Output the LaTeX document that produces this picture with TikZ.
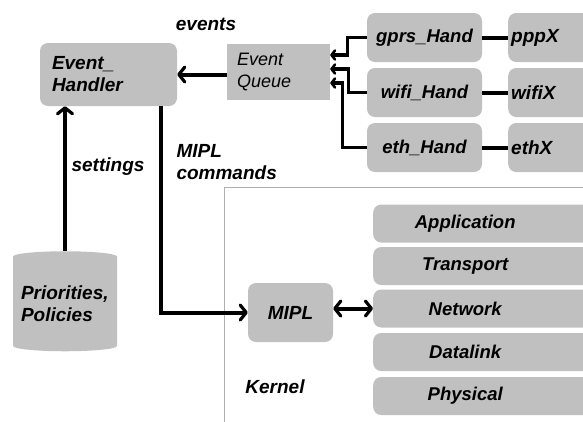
\documentclass[tikz,border=0pt]{standalone}
\usepackage{fontspec}
\setmainfont{Liberation Sans}
\usetikzlibrary{arrows.meta,shapes.geometric,calc}
\definecolor{boxgray}{HTML}{C0C0C0}
\definecolor{framegray}{HTML}{B0B0B0}
% layer names are centred on the visible part of the layer bar
\newcommand{\layerlabel}[1]{\makebox[184pt]{#1}}
\begin{document}
\begin{tikzpicture}[x=1pt,y=-1pt,
  every node/.style={font=\fontsize{19}{22}\selectfont\bfseries\itshape},
  small/.style={font=\fontsize{18.5}{22}\selectfont\bfseries\itshape},
  box/.style={fill=boxgray, rounded corners=8pt, inner sep=0pt},
  plainbox/.style={fill=boxgray, inner sep=0pt},
  handbox/.style={box, small, minimum width=115pt, minimum height=49pt},
  ifbox/.style={box, anchor=west, minimum width=120pt, minimum height=49pt,
                text width=114pt, inner xsep=3pt, align=left},
  layerbox/.style={box, small, anchor=west, minimum width=250pt,
                   minimum height=38pt, text width=250pt, align=left},
  conn/.style={line width=4pt},
  tipbig/.tip={Straight Barb[length=6pt, width=15pt, line width=3.2pt, round]},
  tipsmall/.tip={Straight Barb[length=3.5pt, width=9pt, line width=2.6pt, round]},
  arr/.style={conn, -tipbig},
  sarr/.style={line width=3.2pt, -tipsmall}
]
\useasboundingbox (0,0) rectangle (583,421);

% kernel frame (runs off the page to the right and bottom)
\draw[framegray, line width=0.8pt] (224,187) rectangle (700,520);

% user-space components
\node[box, minimum width=137pt, minimum height=63pt, text width=113pt, align=left]
  (eh) at (108.5,74.5) {Event\_\\Handler};
\node[plainbox, minimum width=103pt, minimum height=56pt, text width=83pt, align=left,
      font=\fontsize{18}{22}\selectfont\itshape]
  (eq) at (278.5,72) {Event\\Queue};

\node[handbox] (gprs) at (424.5,37.5) {\raisebox{2pt}{gprs\_Hand}};
\node[handbox] (wifi) at (424.5,92.5) {wifi\_Hand};
\node[handbox] (eth)  at (424.5,147.5) {eth\_Hand};

\node[ifbox] (ppp)   at (508,37.5) {\raisebox{-3pt}{pppX}};
\node[ifbox] (wifix) at (508,92.5) {\raisebox{-2pt}{wifiX}};
\node[ifbox] (ethx)  at (508,147.5) {ethX};

\node[cylinder, shape border rotate=90, aspect=0.12, fill=boxgray, inner sep=0pt,
      minimum width=104pt, minimum height=100pt, text width=88pt, align=left]
  (db) at (65,304) {Priorities,\\Policies};

% kernel components
\node[box, minimum width=85pt, minimum height=59pt] (mipl) at (290.5,312.5) {MIPL};
\node[layerbox] (app)  at (373,223.5) {\layerlabel{Application}};
\node[layerbox] (tra)  at (373,266)   {\layerlabel{Transport}};
\node[layerbox] (net)  at (373,308.5) {\layerlabel{Network}};
\node[layerbox] (dl)   at (373,352)   {\layerlabel{Datalink}};
\node[layerbox] (phy)  at (373,396)   {\layerlabel{Physical}};
\node (kern) at (275,387) {Kernel};

% labels
\node (evlbl) at (206,24) {events};
\node (setlbl) at (108,167) {settings};
\node[anchor=west, align=left] (cmdlbl) at (173,162) {MIPL\\commands};

% connectors
\draw[conn] (gprs.east) -- (ppp.west);
\draw[conn] (wifi.east) -- (wifix.west);
\draw[conn] (eth.east) -- (ethx.west);

\draw[sarr] (gprs.west) -- ++(-19,0) |- (eq.east |- 0,55);
\draw[sarr] (wifi.west) -- ++(-18,0) |- (eq.east |- 0,69);
\draw[sarr] (eth.west)  -- ++(-24,0) |- (eq.east |- 0,83);

\draw[arr] (eq.west |- eh.east) -- (eh.east);
\draw[arr] (db.north) -- (db.north |- eh.south);
\draw[arr] ($(eh.south east)+(-16,0)$) |- (mipl.west);
\draw[conn, tipbig-tipbig] (mipl.east |- net.west) -- (net.west);
\end{tikzpicture}
\end{document}
